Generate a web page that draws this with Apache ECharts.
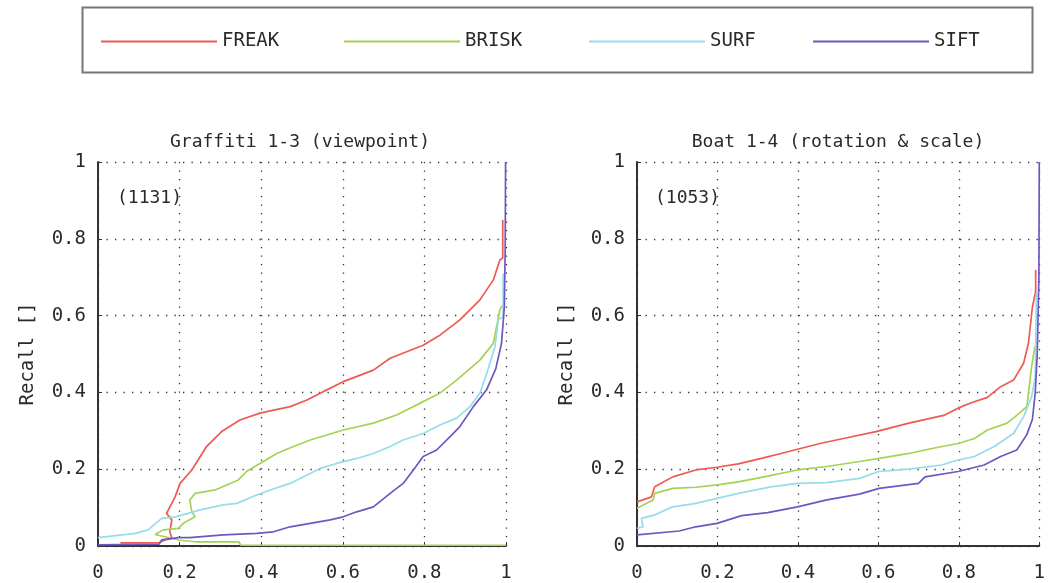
<!DOCTYPE html>
<html><head><meta charset="utf-8">
<script src="https://cdn.jsdelivr.net/npm/echarts@6/dist/echarts.min.js"></script>
<style>html,body{margin:0;padding:0;background:#fff}#c{width:1048px;height:583px}</style>
</head><body><div id="c"></div>
<script>
// ---- data ----
const seriesNames = ['FREAK', 'BRISK', 'SURF', 'SIFT'];
const panelTitles = ['Graffiti 1-3 (viewpoint)', 'Boat 1-4 (rotation & scale)'];
const panelCounts = ['(1131)', '(1053)'];
const yAxisName = 'Recall []';
const axisMin = 0, axisMax = 1, axisStep = 0.2;

// Graffiti 1-3 (x = 1-precision, y = recall)
const graffitiFREAK = [[0.055,0.008],[0.15,0.009],[0.164,0.016],[0.181,0.02],[0.176,0.037],[0.181,0.068],[0.168,0.085],[0.189,0.128],[0.201,0.163],[0.23,0.198],[0.266,0.259],[0.303,0.298],[0.348,0.328],[0.397,0.346],[0.471,0.363],[0.512,0.38],[0.552,0.402],[0.601,0.428],[0.675,0.458],[0.716,0.489],[0.797,0.523],[0.838,0.549],[0.887,0.589],[0.936,0.641],[0.969,0.693],[0.985,0.745],[0.992,0.75],[0.992,0.849]];
const graffitiBRISK = [[1,0.002],[0.35,0.002],[0.345,0.011],[0.24,0.011],[0.2,0.015],[0.14,0.03],[0.16,0.042],[0.197,0.046],[0.209,0.059],[0.238,0.076],[0.23,0.089],[0.225,0.12],[0.238,0.137],[0.287,0.146],[0.344,0.172],[0.364,0.194],[0.397,0.215],[0.438,0.241],[0.479,0.259],[0.52,0.276],[0.561,0.289],[0.601,0.302],[0.675,0.32],[0.732,0.341],[0.765,0.359],[0.797,0.376],[0.838,0.398],[0.879,0.432],[0.936,0.484],[0.969,0.528],[0.985,0.615],[0.99,0.625]];
const graffitiSURF = [[0,0.022],[0.091,0.033],[0.123,0.042],[0.156,0.072],[0.189,0.076],[0.221,0.085],[0.25,0.094],[0.307,0.107],[0.34,0.111],[0.389,0.133],[0.422,0.146],[0.471,0.163],[0.52,0.189],[0.544,0.202],[0.585,0.215],[0.634,0.228],[0.675,0.241],[0.716,0.259],[0.748,0.276],[0.797,0.293],[0.838,0.315],[0.879,0.333],[0.912,0.363],[0.936,0.398],[0.953,0.45],[0.973,0.519],[0.981,0.589],[0.993,0.597],[0.993,0.71]];
const graffitiSIFT = [[0,0.003],[0.15,0.005],[0.156,0.016],[0.197,0.022],[0.225,0.022],[0.307,0.029],[0.389,0.033],[0.43,0.037],[0.471,0.05],[0.52,0.059],[0.569,0.068],[0.601,0.076],[0.634,0.089],[0.675,0.102],[0.716,0.137],[0.748,0.163],[0.773,0.198],[0.797,0.233],[0.83,0.25],[0.863,0.285],[0.887,0.311],[0.92,0.363],[0.952,0.406],[0.975,0.462],[0.989,0.528],[0.996,0.623],[0.998,0.77],[0.999,1.0]];

// Boat 1-4
const boatFREAK = [[0,0.115],[0.036,0.128],[0.044,0.154],[0.089,0.18],[0.146,0.198],[0.199,0.205],[0.252,0.214],[0.309,0.228],[0.358,0.241],[0.399,0.252],[0.455,0.267],[0.513,0.28],[0.594,0.298],[0.676,0.32],[0.765,0.341],[0.798,0.359],[0.831,0.373],[0.871,0.387],[0.904,0.415],[0.936,0.432],[0.961,0.476],[0.973,0.528],[0.983,0.623],[0.991,0.662],[0.991,0.719]];
const boatBRISK = [[0,0.098],[0.04,0.12],[0.044,0.137],[0.089,0.15],[0.146,0.153],[0.199,0.159],[0.252,0.167],[0.325,0.182],[0.399,0.198],[0.472,0.207],[0.553,0.22],[0.602,0.228],[0.676,0.241],[0.733,0.254],[0.798,0.267],[0.839,0.28],[0.871,0.302],[0.92,0.32],[0.944,0.34],[0.969,0.363],[0.981,0.467],[0.989,0.519]];
const boatSURF = [[0,0.046],[0.015,0.05],[0.011,0.072],[0.044,0.081],[0.089,0.102],[0.146,0.111],[0.199,0.124],[0.252,0.137],[0.333,0.154],[0.399,0.163],[0.472,0.165],[0.553,0.176],[0.602,0.194],[0.676,0.2],[0.757,0.211],[0.798,0.224],[0.839,0.233],[0.888,0.259],[0.936,0.293],[0.961,0.337],[0.981,0.389],[0.99,0.441],[0.993,0.658]];
const boatSIFT = [[0,0.029],[0.105,0.039],[0.146,0.05],[0.199,0.059],[0.26,0.079],[0.325,0.087],[0.399,0.102],[0.472,0.12],[0.553,0.135],[0.602,0.15],[0.7,0.163],[0.716,0.18],[0.798,0.194],[0.863,0.211],[0.904,0.233],[0.944,0.25],[0.969,0.29],[0.983,0.33],[0.99,0.4],[0.995,0.5],[0.999,0.7],[1,1]];

// ---- styling / layout ----
const colors = ['#ee5a52', '#a6d253', '#95dcec', '#6b58c2'];
const FONT = 'DejaVu Sans Mono';
const TXT = '#2a2a2a';
const grids = [
  { left: 98, width: 408, top: 162, height: 384 },
  { left: 637, width: 409, top: 162, height: 384 }
];
const legendX = [101, 344, 589, 813];
const titleCenters = [300, 838];
const countPos = [[117, 189], [655, 189]];

const panelData = [
  [graffitiFREAK, graffitiBRISK, graffitiSURF, graffitiSIFT],
  [boatFREAK, boatBRISK, boatSURF, boatSIFT]
];

const dotted = { color: '#333', width: 1.3, type: [1.3, 7.2] };

const xAxes = grids.map((g, i) => ({
  type: 'value', gridIndex: i, min: axisMin, max: axisMax, interval: axisStep,
  axisLine: { show: true, onZero: false, lineStyle: { color: '#333', width: 2 } },
  axisTick: { show: true, inside: true, length: 4, lineStyle: { color: '#333' } },
  axisLabel: { color: TXT, fontFamily: FONT, fontSize: 19, margin: 18 },
  splitLine: { show: true, lineStyle: dotted }
}));
const yAxes = grids.map((g, i) => ({
  type: 'value', gridIndex: i, min: axisMin, max: axisMax, interval: axisStep,
  name: yAxisName, nameLocation: 'middle', nameGap: 60,
  nameTextStyle: { color: TXT, fontFamily: FONT, fontSize: 19 },
  axisLine: { show: true, onZero: false, lineStyle: { color: '#333', width: 2 } },
  axisTick: { show: true, inside: true, length: 4, lineStyle: { color: '#333' } },
  axisLabel: { color: TXT, fontFamily: FONT, fontSize: 19, margin: 12 },
  splitLine: { show: true, lineStyle: dotted }
}));

const series = [];
panelData.forEach((arrs, p) => {
  arrs.forEach((d, k) => {
    series.push({
      type: 'line', name: seriesNames[k], xAxisIndex: p, yAxisIndex: p,
      data: d, showSymbol: false, symbol: 'none', animation: false,
      lineStyle: { color: colors[k], width: 1.7 }, itemStyle: { color: colors[k] },
      z: 3 + k
    });
  });
});

const option = {
  backgroundColor: '#fff',
  animation: false,
  color: colors,
  grid: grids,
  xAxis: xAxes,
  yAxis: yAxes,
  title: panelTitles.map((t, i) => ({
    text: t, left: titleCenters[i], top: 133, textAlign: 'center', padding: 0,
    textStyle: { color: TXT, fontFamily: FONT, fontSize: 18, fontWeight: 'normal' }
  })),
  legend: seriesNames.map((n, i) => ({
    data: [n], left: legendX[i], top: 32, padding: 0, icon: 'rect', itemWidth: 116, itemHeight: 2,
    textStyle: { color: TXT, fontFamily: FONT, fontSize: 19 },
    selectedMode: false
  })),
  graphic: [
    { type: 'rect', left: 80, top: 5, shape: { width: 950, height: 65 }, style: { fill: 'none', stroke: '#777', lineWidth: 2 }, silent: true }
  ].concat(panelCounts.map((t, i) => ({
    type: 'text', left: countPos[i][0], top: countPos[i][1],
    style: { text: t, fill: TXT, font: '18px "' + FONT + '"' }
  }))),
  series: series
};
const chart = echarts.init(document.getElementById('c'), null, { renderer: 'canvas' });
chart.setOption(option);
</script></body></html>
